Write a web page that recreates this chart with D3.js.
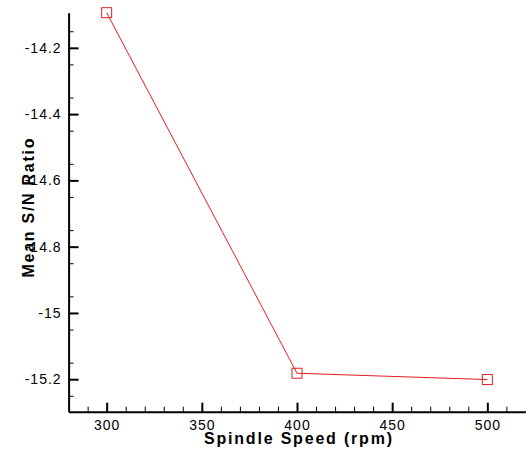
<!DOCTYPE html>
<html>
<head>
<meta charset="utf-8">
<script src="https://cdn.jsdelivr.net/npm/d3@7"></script>
<style>
  body { margin: 0; background: #fff; }
  text { font-family: "Liberation Sans", Arial, Helvetica, sans-serif; }
</style>
</head>
<body>
<svg id="chart" width="526" height="451"></svg>
<script>
// spindle speed levels and mean S/N ratio
var speeds = [300, 400, 500];
var snRatio = [-14.094, -15.182, -15.201];

var xTicks = [300, 350, 400, 450, 500];
var yTicks = [-15.2, -15, -14.8, -14.6, -14.4, -14.2];
var yTickLabels = ['-15.2', '-15', '-14.8', '-14.6', '-14.4', '-14.2'];

var svg = d3.select('#chart');

var x = d3.scaleLinear().domain([280, 520]).range([68.6, 525.4]);
var y = d3.scaleLinear().domain([-15.298, -14.094]).range([411.7, 12.7]);

// minor ticks
var xMinor = d3.range(290, 520, 10).filter(function (d) { return d % 50 !== 0; });
var yMinor = d3.range(-15.25, -14.09, 0.05).filter(function (d) {
    return Math.abs(Math.round(d * 10) - d * 10) > 0.01;
});

svg.append('g')
    .attr('transform', 'translate(0,411.7)')
    .call(d3.axisBottom(x).tickValues(xMinor).tickFormat('').tickSizeInner(-5).tickSizeOuter(0))
    .call(function (g) { g.select('.domain').remove(); });

svg.append('g')
    .attr('transform', 'translate(68.6,0)')
    .call(d3.axisLeft(y).tickValues(yMinor).tickFormat('').tickSizeInner(-5).tickSizeOuter(0))
    .call(function (g) { g.select('.domain').remove(); });

// major axes
var xAxis = svg.append('g')
    .attr('transform', 'translate(0,411.7)')
    .call(d3.axisBottom(x).tickValues(xTicks).tickSizeInner(-9).tickSizeOuter(0).tickPadding(8));

var yAxis = svg.append('g')
    .attr('transform', 'translate(68.6,0)')
    .call(d3.axisLeft(y).tickValues(yTicks)
        .tickFormat(function (d, i) { return yTickLabels[i]; })
        .tickSizeInner(-10).tickSizeOuter(0).tickPadding(7));

[xAxis, yAxis].forEach(function (g) {
    g.select('.domain').attr('stroke-width', 2);
    g.selectAll('.tick line').attr('stroke-width', 2);
    g.selectAll('.tick text')
        .attr('font-size', 14)
        .attr('letter-spacing', '1px')
        .attr('fill', '#000')
        .style('font-family', '"Liberation Sans", Arial, sans-serif');
});

// axis titles
svg.append('text')
    .attr('x', 298)
    .attr('y', 444)
    .attr('text-anchor', 'middle')
    .attr('font-size', 16)
    .attr('font-weight', 'bold')
    .attr('textLength', 188)
    .attr('lengthAdjust', 'spacing')
    .text('Spindle Speed (rpm)');

svg.append('text')
    .attr('transform', 'translate(34,208) rotate(-90)')
    .attr('text-anchor', 'middle')
    .attr('font-size', 16)
    .attr('font-weight', 'bold')
    .attr('textLength', 139)
    .attr('lengthAdjust', 'spacing')
    .text('Mean S/N Ratio');

// data line and markers
var pts = speeds.map(function (s, i) { return [s, snRatio[i]]; });

svg.append('path')
    .datum(pts)
    .attr('fill', 'none')
    .attr('stroke', '#e02020')
    .attr('stroke-width', 1)
    .attr('d', d3.line()
        .x(function (d) { return x(d[0]); })
        .y(function (d) { return y(d[1]); }));

svg.selectAll('rect.marker')
    .data(pts)
    .enter()
    .append('rect')
    .attr('class', 'marker')
    .attr('x', function (d) { return x(d[0]) - 5; })
    .attr('y', function (d) { return y(d[1]) - 5; })
    .attr('width', 10)
    .attr('height', 10)
    .attr('fill', 'none')
    .attr('stroke', '#e02020')
    .attr('stroke-width', 1);
</script>
</body>
</html>
